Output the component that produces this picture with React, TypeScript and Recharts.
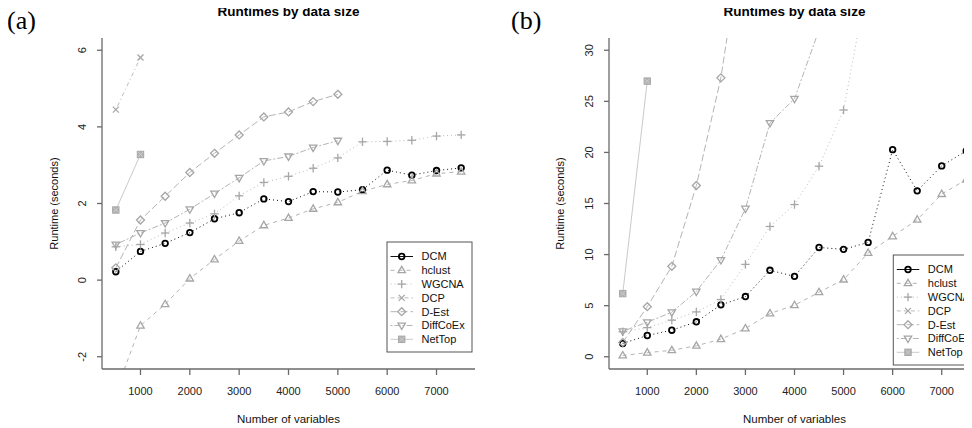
import React from 'react';
import { LineChart, Line, XAxis, YAxis } from 'recharts';

// ---- data ----
const sizes = [500, 1000, 1500, 2000, 2500, 3000, 3500, 4000, 4500, 5000, 5500, 6000, 6500, 7000, 7500];
const xTicks = [1000, 2000, 3000, 4000, 5000, 6000, 7000];
const seriesNames = ['DCM', 'hclust', 'WGCNA', 'DCP', 'D-Est', 'DiffCoEx', 'NetTop'];

// panel (a): log runtimes
const aDCM = [0.22, 0.75, 0.96, 1.24, 1.6, 1.76, 2.12, 2.05, 2.31, 2.3, 2.36, 2.87, 2.74, 2.86, 2.93];
const aHclust = [-2.92, -1.19, -0.63, 0.04, 0.54, 1.02, 1.43, 1.62, 1.86, 2.03, 2.32, 2.5, 2.6, 2.78, 2.83];
const aWGCNA = [0.87, 0.93, 1.23, 1.49, 1.73, 2.2, 2.55, 2.71, 2.92, 3.19, 3.61, 3.62, 3.65, 3.76, 3.79];
const aDCP = [4.45, 5.81];
const aDEst = [0.32, 1.57, 2.19, 2.81, 3.31, 3.79, 4.26, 4.39, 4.66, 4.85];
const aDiffCoEx = [0.93, 1.23, 1.49, 1.85, 2.26, 2.67, 3.11, 3.23, 3.46, 3.64];
const aNetTop = [1.83, 3.28];
const aYTicks = [-2, 0, 2, 4, 6];

// panel (b): runtimes in seconds
const bDCM = [1.3, 2.08, 2.6, 3.42, 5.08, 5.89, 8.46, 7.87, 10.7, 10.51, 11.19, 20.27, 16.24, 18.68, 20.15];
const bHclust = [0.12, 0.4, 0.63, 1.07, 1.72, 2.76, 4.23, 5.04, 6.31, 7.55, 10.16, 11.78, 13.41, 15.92, 17.34];
const bWGCNA = [2.44, 2.85, 3.58, 4.39, 5.6, 9.04, 12.75, 14.9, 18.65, 24.15, 37, 37.5, 38.5, 43, 44];
const bDCP = [86, 330];
const bDEst = [1.4, 4.9, 8.85, 16.76, 27.3, 43, 70, 80, 105, 128];
const bDiffCoEx = [2.5, 3.38, 4.36, 6.38, 9.47, 14.5, 22.88, 25.25, 32, 38];
const bNetTop = [6.18, 26.98];
const bYTicks = [0, 5, 10, 15, 20, 25, 30];

const buildRows = (cols: (number[])[]) =>
  sizes.map((x, i) => {
    const row: any = { x };
    seriesNames.forEach((n, k) => {
      const v = cols[k][i];
      row[n] = v === undefined ? null : v;
    });
    return row;
  });

const rowsA = buildRows([aDCM, aHclust, aWGCNA, aDCP, aDEst, aDiffCoEx, aNetTop]);
const rowsB = buildRows([bDCM, bHclust, bWGCNA, bDCP, bDEst, bDiffCoEx, bNetTop]);

// ---- styles ----
const FONT = '"Liberation Sans", Arial, Helvetica, sans-serif';
const MARK = '#a6a6a6';
const styles: Record<string, { stroke: string; dash?: string; legendDash?: string; shape: string; mark: string }> = {
  DCM: { stroke: '#111', dash: '1 3', legendDash: undefined, shape: 'circle', mark: '#000' },
  hclust: { stroke: '#b4b4b4', dash: '4 4', legendDash: '4 4', shape: 'tri', mark: MARK },
  WGCNA: { stroke: '#bcbcbc', dash: '1 3', legendDash: '1 3', shape: 'plus', mark: MARK },
  DCP: { stroke: '#bcbcbc', dash: '1 3 4 3', legendDash: '4 3', shape: 'x', mark: MARK },
  'D-Est': { stroke: '#b4b4b4', dash: '7 3', legendDash: '7 3', shape: 'diamond', mark: MARK },
  DiffCoEx: { stroke: '#b4b4b4', dash: '2 2 6 2', legendDash: '2 2 6 2', shape: 'tridown', mark: MARK },
  NetTop: { stroke: '#cacaca', shape: 'square', mark: MARK },
};

function Marker({ shape, cx, cy, color }: { shape: string; cx: number; cy: number; color: string }) {
  const sw = 1.3;
  switch (shape) {
    case 'circle':
      return <circle cx={cx} cy={cy} r={2.8} fill="none" stroke={color} strokeWidth={1.8} />;
    case 'tri':
      return (
        <polygon
          points={`${cx},${cy - 4} ${cx - 3.7},${cy + 2.4} ${cx + 3.7},${cy + 2.4}`}
          fill="none"
          stroke={color}
          strokeWidth={sw}
        />
      );
    case 'tridown':
      return (
        <polygon
          points={`${cx},${cy + 4} ${cx - 3.7},${cy - 2.4} ${cx + 3.7},${cy - 2.4}`}
          fill="none"
          stroke={color}
          strokeWidth={sw}
        />
      );
    case 'plus':
      return (
        <g stroke={color} strokeWidth={sw}>
          <line x1={cx - 4.2} y1={cy} x2={cx + 4.2} y2={cy} />
          <line x1={cx} y1={cy - 4.2} x2={cx} y2={cy + 4.2} />
        </g>
      );
    case 'x':
      return (
        <g stroke={color} strokeWidth={sw}>
          <line x1={cx - 3} y1={cy - 3} x2={cx + 3} y2={cy + 3} />
          <line x1={cx - 3} y1={cy + 3} x2={cx + 3} y2={cy - 3} />
        </g>
      );
    case 'diamond':
      return (
        <polygon
          points={`${cx},${cy - 4} ${cx + 4},${cy} ${cx},${cy + 4} ${cx - 4},${cy}`}
          fill="none"
          stroke={color}
          strokeWidth={sw}
        />
      );
    case 'square':
      return (
        <g>
          <rect x={cx - 3.2} y={cy - 3.2} width={6.4} height={6.4} fill="#b3b3b3" stroke="#a8a8a8" strokeWidth={1} />
          <line x1={cx - 2.4} y1={cy - 2.4} x2={cx + 2.4} y2={cy + 2.4} stroke="#cfcfcf" strokeWidth={0.8} />
          <line x1={cx - 2.4} y1={cy + 2.4} x2={cx + 2.4} y2={cy - 2.4} stroke="#cfcfcf" strokeWidth={0.8} />
        </g>
      );
    default:
      return null;
  }
}

const makeDot = (name: string) => (props: any) => {
  const { cx, cy, index, value } = props;
  if (value === null || value === undefined || cx == null || cy == null || isNaN(cx) || isNaN(cy)) {
    return <g key={`${name}-${index}`} />;
  }
  const st = styles[name];
  return (
    <g key={`${name}-${index}`}>
      <Marker shape={st.shape} cx={cx} cy={cy} color={st.mark} />
    </g>
  );
};

function LegendBox({ x, y }: { x: number; y: number }) {
  const w = 85;
  const h = 110;
  return (
    <g>
      <rect x={x} y={y} width={w} height={h} fill="#fff" stroke="#555" strokeWidth={1} />
      {seriesNames.map((n, i) => {
        const st = styles[n];
        const ry = y + 14.5 + i * 13.8;
        return (
          <g key={n}>
            <line x1={x + 3.5} y1={ry} x2={x + 26} y2={ry} stroke={st.stroke} strokeWidth={1} strokeDasharray={st.legendDash} />
            <Marker shape={st.shape} cx={x + 14.7} cy={ry} color={st.mark} />
            <text x={x + 34.5} y={ry} dy="0.36em" fontSize={11} fill="#111" fontFamily={FONT}>
              {n}
            </text>
          </g>
        );
      })}
    </g>
  );
}

const YTick = (props: any) => {
  const { x, y, payload } = props;
  return (
    <text
      x={x}
      y={y}
      transform={`rotate(-90 ${x} ${y})`}
      textAnchor="middle"
      fontSize={11}
      fill="#222"
      fontFamily={FONT}
    >
      {payload.value}
    </text>
  );
};

type PanelProps = {
  rows: any[];
  yDomain: [number, number];
  yTicks: number[];
  left: number;
  width: number;
  plotLeft: number;
  marginRight: number;
  letter: string;
  letterX: number;
  legendX: number;
  legendY: number;
  yLabelX: number;
};

function Panel(p: PanelProps) {
  const plotRight = p.width - p.marginRight;
  const cx = (p.plotLeft + plotRight) / 2;
  const frame = { stroke: '#6a6a6a', strokeWidth: 1.3 };
  return (
    <div style={{ position: 'absolute', left: p.left, top: 0 }}>
      <LineChart
        width={p.width}
        height={428}
        data={p.rows}
        margin={{ top: 38, right: p.marginRight, bottom: 0, left: 0 }}
      >
        <XAxis
          dataKey="x"
          type="number"
          domain={[220, 7780]}
          ticks={xTicks}
          interval={0}
          allowDataOverflow
          height={59}
          tickSize={6}
          tickMargin={12}
          axisLine={frame}
          tickLine={frame}
          tick={{ fontSize: 11, fill: '#222', fontFamily: FONT }}
        />
        <XAxis
          xAxisId="top"
          orientation="top"
          dataKey="x"
          type="number"
          domain={[220, 7780]}
          allowDataOverflow
          height={0}
          tick={false}
          tickLine={false}
          axisLine={frame}
        />
        <YAxis
          type="number"
          domain={p.yDomain}
          ticks={p.yTicks}
          interval={0}
          allowDataOverflow
          width={p.plotLeft}
          tickSize={5}
          tickMargin={11}
          axisLine={frame}
          tickLine={frame}
          tick={<YTick />}
        />
        <YAxis
          yAxisId="right"
          orientation="right"
          type="number"
          domain={p.yDomain}
          allowDataOverflow
          width={0}
          tick={false}
          tickLine={false}
          axisLine={frame}
        />
        {seriesNames.map((n) => (
          <Line
            key={n}
            dataKey={n}
            type="linear"
            stroke={styles[n].stroke}
            strokeWidth={1}
            strokeDasharray={styles[n].dash}
            dot={makeDot(n)}
            activeDot={false}
            isAnimationActive={false}
            connectNulls={false}
          />
        ))}
        <text x={p.letterX} y={28.6} fontSize={26} fontFamily='"Liberation Serif", "Times New Roman", serif' fill="#000">
          {p.letter}
        </text>
        <text x={cx} y={16} textAnchor="middle" fontSize={13.5} fontWeight="bold" fontFamily={FONT} fill="#000">
          Runtimes by data size
        </text>
        <text x={cx} y={423} textAnchor="middle" fontSize={11.5} fontFamily={FONT} fill="#111">
          Number of variables
        </text>
        <text
          x={p.yLabelX}
          y={203.5}
          transform={`rotate(-90 ${p.yLabelX} 203.5)`}
          textAnchor="middle"
          fontSize={11}
          fontFamily={FONT}
          fill="#111"
        >
          Runtime (seconds)
        </text>
        <LegendBox x={p.legendX} y={p.legendY} />
      </LineChart>
    </div>
  );
}

export default function App() {
  return (
    <div
      style={{
        position: 'relative',
        width: 972,
        height: 428,
        marginTop: -8,
        marginLeft: -8,
        overflow: 'hidden',
        background: '#fff',
      }}
    >
      <Panel
        rows={rowsA}
        yDomain={[-2.32, 6.32]}
        yTicks={aYTicks}
        left={0}
        width={486}
        plotLeft={102}
        marginRight={11}
        letter="(a)"
        letterX={7}
        legendX={387}
        legendY={242}
        yLabelX={58}
      />
      <Panel
        rows={rowsB}
        yDomain={[-1.2, 31.2]}
        yTicks={bYTicks}
        left={486}
        width={506}
        plotLeft={123}
        marginRight={12}
        letter="(b)"
        letterX={25}
        legendX={407.3}
        legendY={255}
        yLabelX={78}
      />
    </div>
  );
}
